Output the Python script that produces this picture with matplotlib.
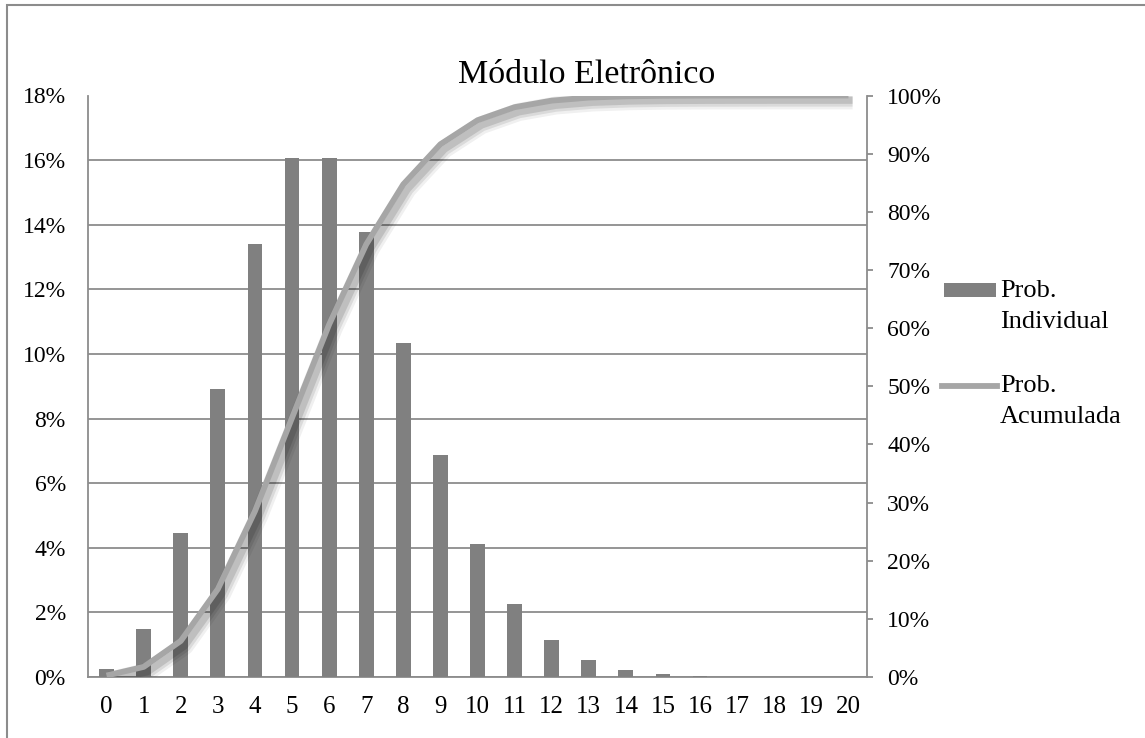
import matplotlib
matplotlib.use("Agg")
import matplotlib.pyplot as plt
from matplotlib import patheffects as pe
from matplotlib.patches import Rectangle
from matplotlib.lines import Line2D
from matplotlib.ticker import PercentFormatter, MultipleLocator

plt.rcParams['font.family'] = ['Liberation Serif', 'DejaVu Serif']

categories = list(range(21))
prob_individual = [0.0025, 0.0149, 0.0446, 0.0892, 0.1339, 0.1606, 0.1606, 0.1377,
                   0.1033, 0.0688, 0.0413, 0.0225, 0.0113, 0.0052, 0.0022, 0.0009,
                   0.0003, 0.0001, 0.0000, 0.0000, 0.0000]
prob_acumulada = [0.0025, 0.0174, 0.0620, 0.1512, 0.2851, 0.4457, 0.6063, 0.7440,
                  0.8472, 0.9161, 0.9574, 0.9799, 0.9912, 0.9964, 0.9986, 0.9995,
                  0.9998, 0.9999, 1.0000, 1.0000, 1.0000]
title = "Módulo Eletrônico"
legend_labels = [("Prob.", "Individual"), ("Prob.", "Acumulada")]

W, H = 1145, 738
fig = plt.figure(figsize=(W / 100, H / 100), dpi=100)

def fx(px):
    return px / W

def fy(py):
    return 1 - py / H

ax_l, ax_r, ax_t, ax_b = 88, 867, 95.5, 677
ax = fig.add_axes([fx(ax_l), fy(ax_b), fx(ax_r - ax_l), (ax_b - ax_t) / H])
ax2 = ax.twinx()

grid_c = '#8c8c8c'
bar_c = '#808080'
line_c = '#a6a6a6'

ax.bar(categories, prob_individual, width=0.4, color=bar_c, zorder=3)
ax.set_xlim(-0.5, 20.5)
ax.set_ylim(0, 0.18)
ax.yaxis.set_major_locator(MultipleLocator(0.02))
ax.yaxis.set_major_formatter(PercentFormatter(1.0, decimals=0))
ax.grid(axis='y', color=grid_c, linewidth=1.3, zorder=0)
ax.set_axisbelow(True)
ax.set_xticks(categories)
ax.set_xticklabels([str(c) for c in categories])
ax.tick_params(axis='x', length=0, pad=14, labelsize=18)
ax.tick_params(axis='y', length=0, pad=16, labelsize=17)
for s in ['top', 'right']:
    ax.spines[s].set_visible(False)
ax.spines['left'].set_color(grid_c)
ax.spines['left'].set_linewidth(1.3)
ax.spines['bottom'].set_color(grid_c)
ax.spines['bottom'].set_linewidth(1.3)

shadow = [pe.SimpleLineShadow(offset=(3, -3.5), shadow_color='#000000', alpha=0.06, linewidth=13),
          pe.SimpleLineShadow(offset=(3, -3.5), shadow_color='#000000', alpha=0.09, linewidth=9),
          pe.SimpleLineShadow(offset=(3, -3.5), shadow_color='#000000', alpha=0.12, linewidth=5),
          pe.Normal()]
ax2.plot(categories, prob_acumulada, color=line_c, linewidth=4.2, zorder=4,
         solid_capstyle='butt', path_effects=shadow)
ax2.set_ylim(0, 1.0)
ax2.yaxis.set_major_locator(MultipleLocator(0.1))
ax2.yaxis.set_major_formatter(PercentFormatter(1.0, decimals=0))
ax2.tick_params(axis='y', length=4.5, width=1.3, color=grid_c, pad=10, labelsize=17)
for s in ['top', 'left', 'bottom']:
    ax2.spines[s].set_visible(False)
ax2.spines['right'].set_color(grid_c)
ax2.spines['right'].set_linewidth(1.3)

fig.text(fx(587), fy(75), title, ha='center', va='center', fontsize=24.5)

# legend
fig.patches.append(Rectangle((fx(944), fy(297)), fx(52), 14 / H, transform=fig.transFigure,
                             facecolor=bar_c, edgecolor='none'))
fig.lines.append(Line2D([fx(942), fx(997)], [fy(386), fy(386)], transform=fig.transFigure,
                        color=line_c, linewidth=4.2))
fig.text(fx(1000), fy(291), legend_labels[0][0], ha='left', va='center', fontsize=19)
fig.text(fx(1000), fy(322), legend_labels[0][1], ha='left', va='center', fontsize=19)
fig.text(fx(1000), fy(386), legend_labels[1][0], ha='left', va='center', fontsize=19)
fig.text(fx(1000), fy(417), legend_labels[1][1], ha='left', va='center', fontsize=19)

# chart area border
fig.patches.append(Rectangle((fx(7), fy(H + 20)), fx(W + 20), (H + 20 - 5) / H,
                             transform=fig.transFigure, facecolor='none',
                             edgecolor='#8c8c8c', linewidth=1.5))

fig.savefig('out.png', dpi=100)
